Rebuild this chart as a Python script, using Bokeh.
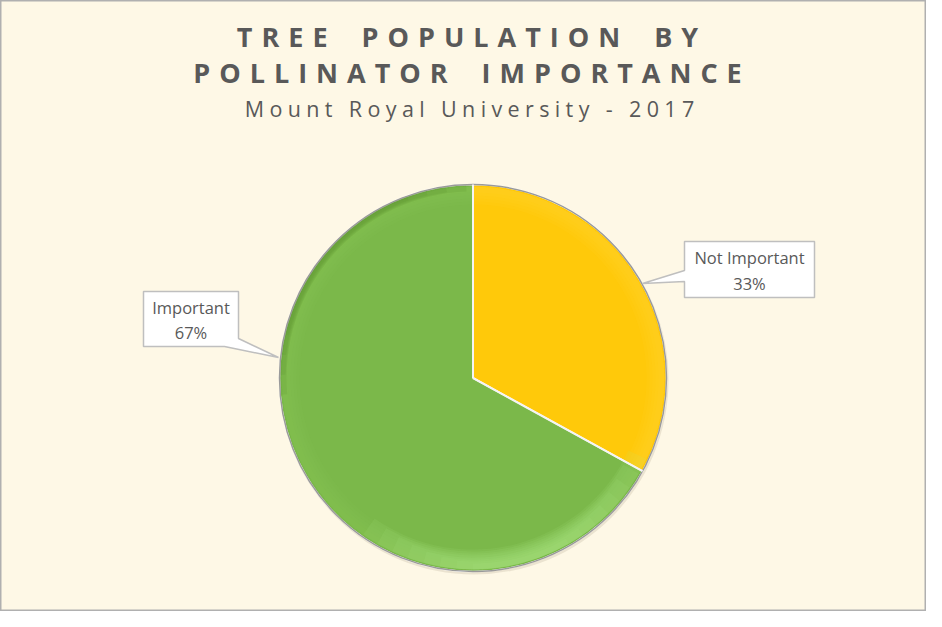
import math
from bokeh.plotting import figure
from bokeh.models import Range1d, ColumnDataSource
from bokeh.core.properties import value
from bokeh.embed import file_html
from bokeh.resources import INLINE

# ---- data ----
categories = ["Not Important", "Important"]
percents = [33, 67]
colors = ["#FFC90A", "#7BB84A"]
title_lines = ["TREE POPULATION BY", "POLLINATOR IMPORTANCE"]
subtitle = "Mount Royal University - 2017"

W, H = 926, 611
BG = "#FEF8E6"
TXT = "#595959"
FONT = "Open Sans"

def spaced(s, gap, word_gap):
    return word_gap.join(gap.join(w) for w in s.split(" "))

def fy(y):
    return 627 - y

p = figure(width=W, height=H, x_range=Range1d(0, W), y_range=Range1d(627 - H, 627),
           output_backend="svg", toolbar_location=None, min_border=0)
p.axis.visible = False
p.xgrid.visible = False
p.ygrid.visible = False
p.background_fill_color = BG
p.border_fill_color = BG
p.outline_line_color = "#B0B0B0"
p.outline_line_width = 2

# ---- pie ----
cx, cy, r = 472.5, fy(377.5), 193.5
total = sum(percents)
starts, ends = [], []
cum = 0
for v in percents:
    starts.append(math.pi / 2 - 2 * math.pi * cum / total)
    cum += v
    ends.append(math.pi / 2 - 2 * math.pi * cum / total)
src = ColumnDataSource(dict(cat=categories, pct=percents, start=starts, end=ends, color=colors))

p.wedge(x=cx + 1, y=cy - 2, radius=r + 1, start_angle=0, end_angle=2 * math.pi,
        fill_color="#DDD6C2", fill_alpha=0.6, line_color=None)
p.wedge(x=cx, y=cy, radius=r, start_angle="start", end_angle="end", direction="clock",
        fill_color="color", line_color="#FFFFFF", line_width=1.5, source=src)

# bevel: graded light band inside each slice edge
light = ["#FFDA45", "#8FCB5E"]
for i in range(len(percents)):
    for k in range(5):
        p.annular_wedge(x=cx, y=cy, inner_radius=r - 20 + 3 * k, outer_radius=r - 2,
                        start_angle=starts[i], end_angle=ends[i], direction="clock",
                        fill_color=light[i], fill_alpha=0.08, line_color=None)
# green rim highlight at bottom, faded ends
for k in range(8):
    a0 = math.radians(-25 - 5 * k)
    a1 = math.radians(-125 + 5 * k)
    p.annular_wedge(x=cx, y=cy, inner_radius=r - 22 + 2 * k, outer_radius=r - 2,
                    start_angle=a0, end_angle=a1, direction="clock",
                    fill_color="#B4EA8C", fill_alpha=0.1, line_color=None)
# darker rim on upper-left, faded ends
for k in range(4):
    p.annular_wedge(x=cx, y=cy, inner_radius=r - 7 + k, outer_radius=r,
                    start_angle=math.radians(185 - 6 * k), end_angle=math.radians(92 + 6 * k),
                    direction="clock", fill_color="#5E9632", fill_alpha=0.2, line_color=None)
p.circle(x=cx, y=cy, radius=r, fill_color=None, line_color="#9A9A9A", line_width=1.5)
for a in starts:
    p.segment(x0=cx, y0=cy, x1=cx + r * math.cos(a), y1=cy + r * math.sin(a),
              line_color="#F4F4F4", line_width=2)

# ---- callouts ----
boxes = {
    "Not Important": [(684, 241), (814, 241), (814, 297), (684, 297), (684, 281), (642, 283), (684, 270)],
    "Important": [(143, 291), (238, 291), (238, 338), (278, 357), (224, 346), (143, 346)],
}
centers = {"Not Important": (749, 270), "Important": (190.5, 319.5)}
for cat, pct in zip(categories, percents):
    pts = boxes[cat]
    p.patch([q[0] for q in pts], [fy(q[1]) for q in pts], fill_color="#FFFFFF",
            line_color="#BFBFBF", line_width=1.5)
    x, y = centers[cat]
    p.text(x=[x], y=[fy(y)], text=[f"{cat}\n{pct}%"], text_align="center",
           text_baseline="middle", text_font=value(FONT), text_font_size="16.5px",
           text_color=TXT, text_line_height=1.1)

# ---- titles ----
G1 = "\u2004"
WG1 = "\u2002 \u2002"
for i, line in enumerate(title_lines):
    p.text(x=[467], y=[fy(36 + 36 * i)], text=[spaced(line, G1, WG1)],
           text_align="center", text_baseline="middle", text_font=value(FONT),
           text_font_size="27px", text_font_style="bold", text_color=TXT)
G2 = "\u2005"
p.text(x=[469], y=[fy(108)], text=[spaced(subtitle, G2, G2 + " " + G2)],
       text_align="center", text_baseline="middle", text_font=value(FONT),
       text_font_size="21.5px", text_color=TXT)

open("out.html", "w").write(file_html(p, INLINE))
